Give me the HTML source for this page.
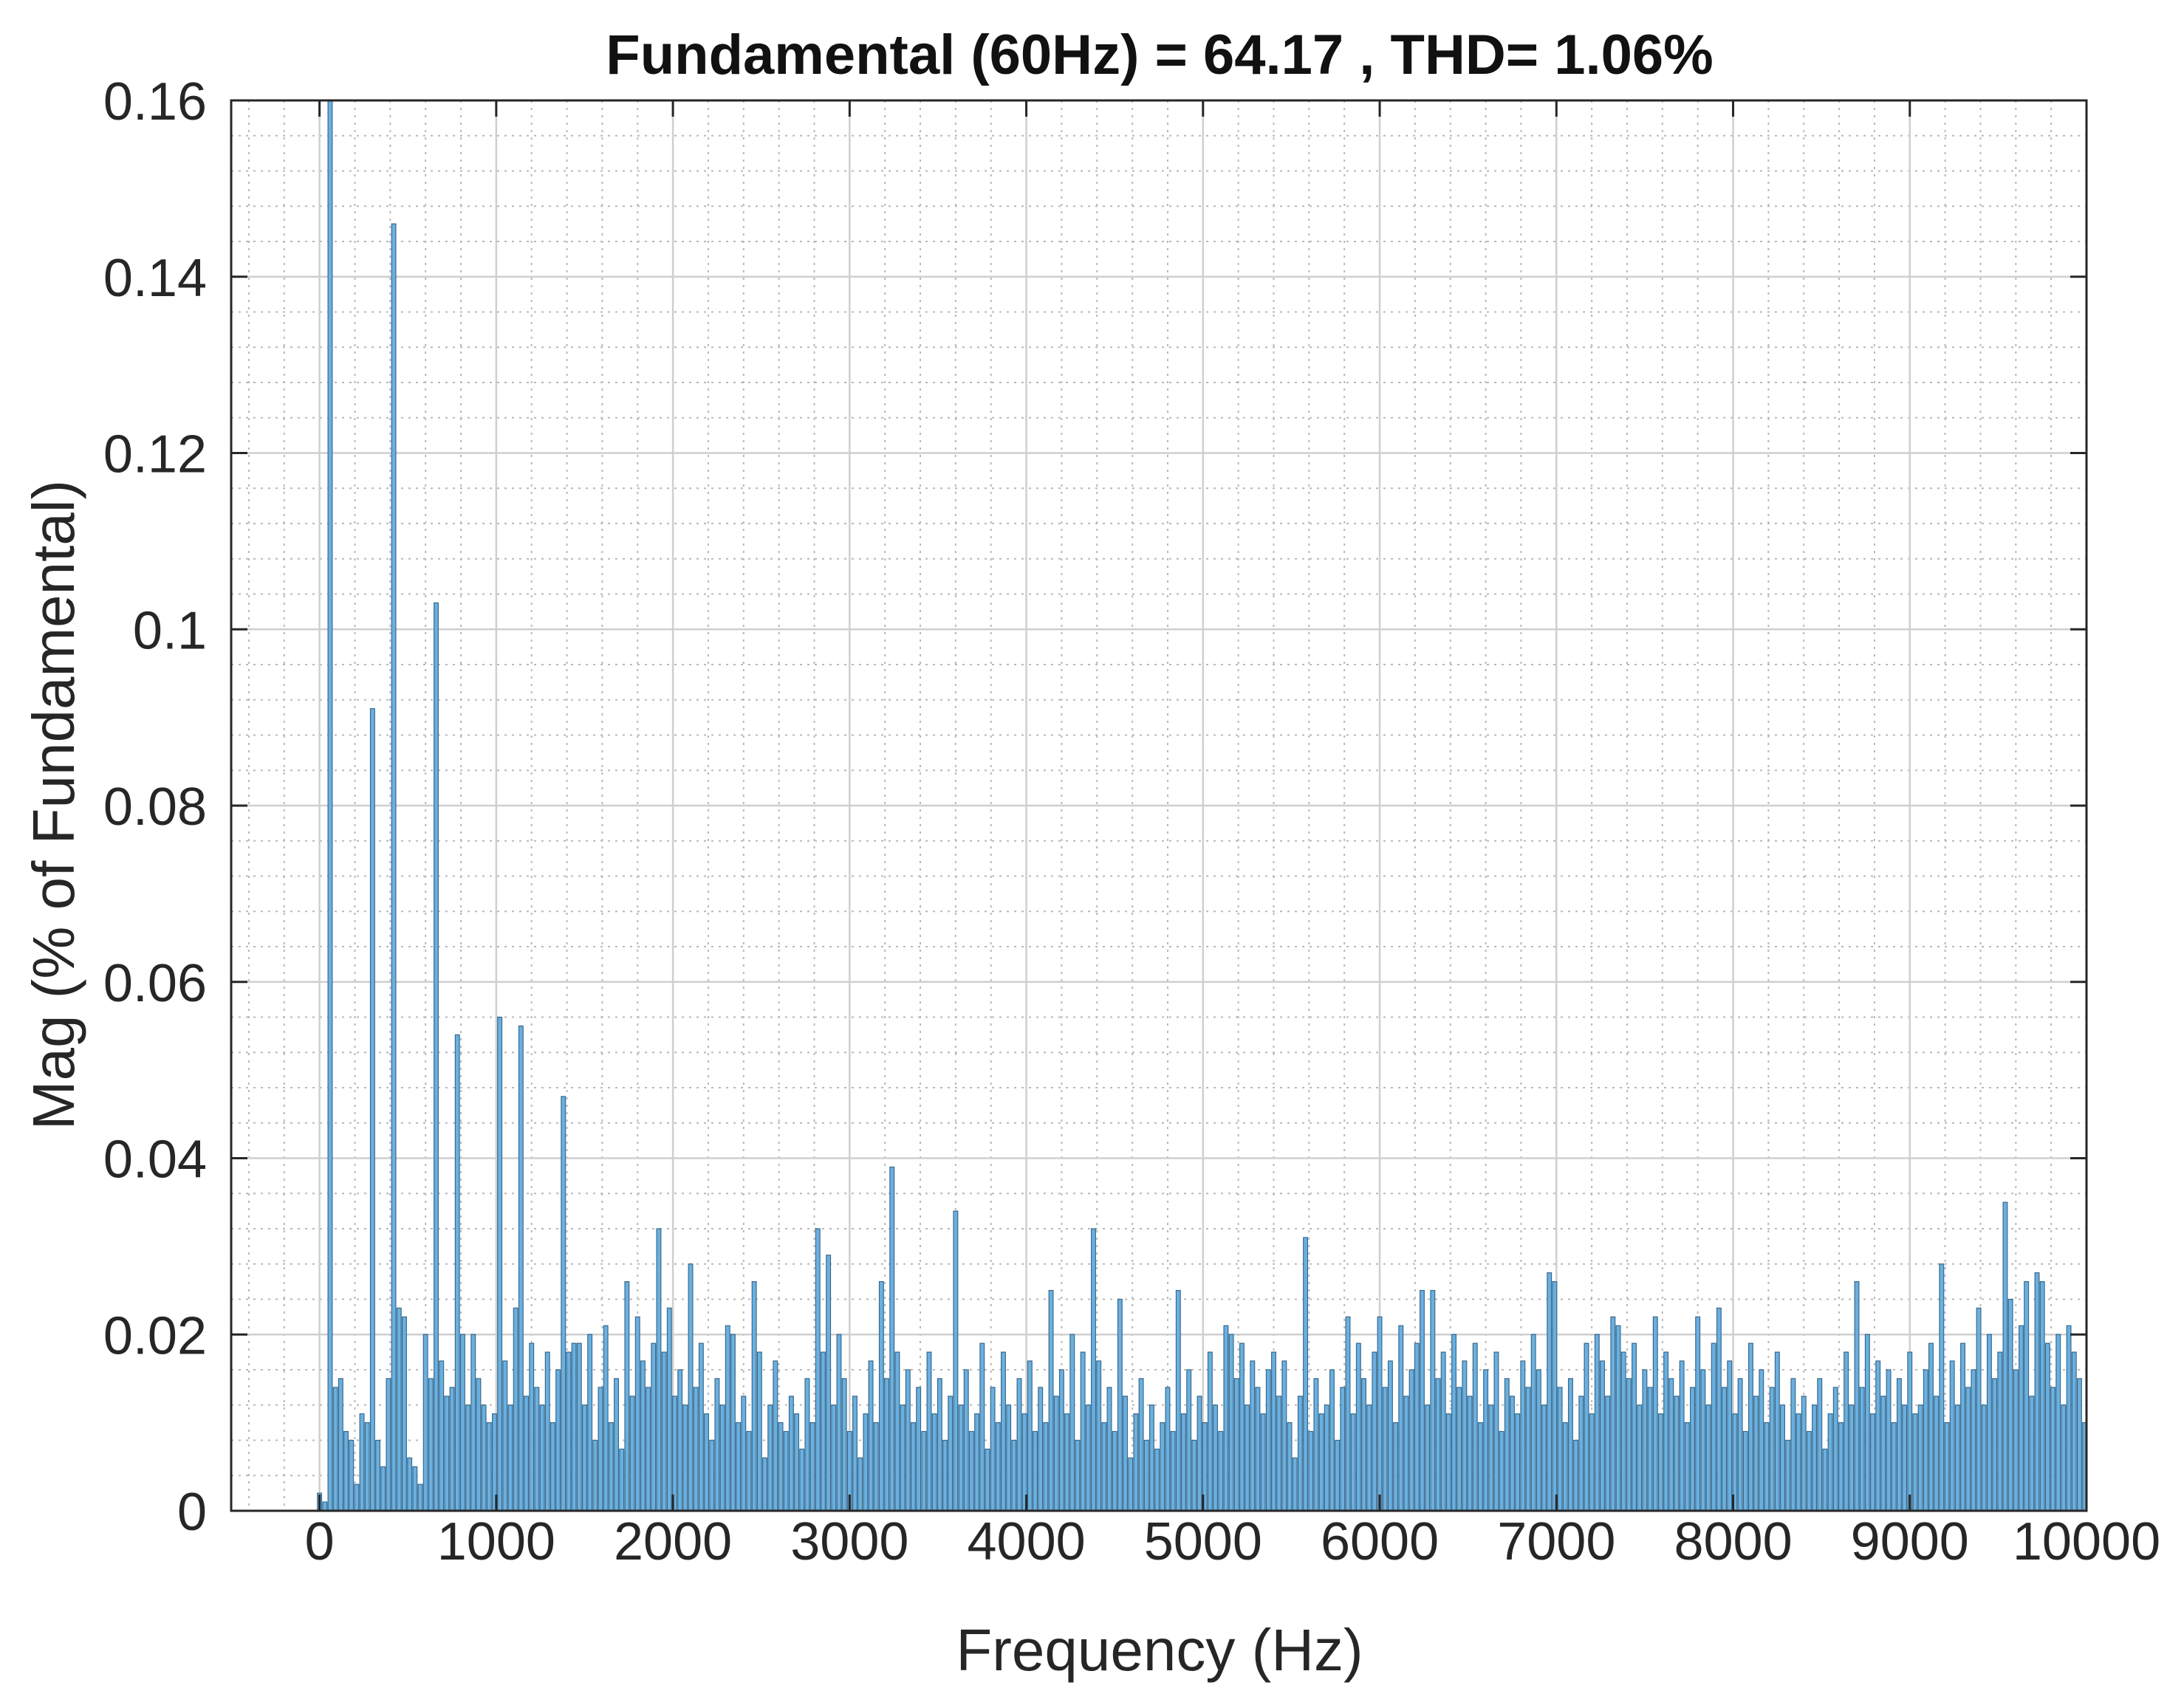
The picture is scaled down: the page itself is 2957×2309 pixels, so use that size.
<!DOCTYPE html>
<html><head><meta charset="utf-8"><style>
html,body{margin:0;padding:0;background:#fff;}
svg{display:block;font-family:"Liberation Sans",Arial,sans-serif;}
</style></head><body>
<svg id="chart" width="2957" height="2309" viewBox="0 0 2957 2309" xmlns="http://www.w3.org/2000/svg">
<defs><clipPath id="plotclip"><rect x="313" y="136" width="2512" height="1910"/></clipPath></defs>
<rect x="313" y="136" width="2512" height="1910" fill="#fff"/>
<g id="grid"></g>
<g id="bars" clip-path="url(#plotclip)"></g>
<g id="axes"></g>
<text x="1570" y="100" text-anchor="middle" font-size="76" font-weight="bold" fill="#111">Fundamental (60Hz) = 64.17 , THD= 1.06%</text>
<text x="1570" y="2262" text-anchor="middle" font-size="80" fill="#262626">Frequency (Hz)</text>
<text transform="translate(100,1090) rotate(-90)" text-anchor="middle" font-size="80" fill="#262626">Mag (% of Fundamental)</text>
</svg>
<script>
const binWidth = 30;
const magValues = [
0.002,0.001,100,0.014,0.015,0.009,0.008,0.003,0.011,0.01,
0.091,0.008,0.005,0.015,0.146,0.023,0.022,0.006,0.005,0.003,
0.02,0.015,0.103,0.017,0.013,0.014,0.054,0.02,0.012,0.02,
0.015,0.012,0.01,0.011,0.056,0.017,0.012,0.023,0.055,0.013,
0.019,0.014,0.012,0.018,0.01,0.016,0.047,0.018,0.019,0.019,
0.012,0.02,0.008,0.014,0.021,0.01,0.015,0.007,0.026,0.013,
0.022,0.017,0.014,0.019,0.032,0.018,0.023,0.013,0.016,0.012,
0.028,0.014,0.019,0.011,0.008,0.015,0.012,0.021,0.02,0.01,
0.013,0.009,0.026,0.018,0.006,0.012,0.017,0.01,0.009,0.013,
0.011,0.007,0.015,0.01,0.032,0.018,0.029,0.012,0.02,0.015,
0.009,0.013,0.006,0.011,0.017,0.01,0.026,0.015,0.039,0.018,
0.012,0.016,0.01,0.014,0.009,0.018,0.011,0.015,0.008,0.013,
0.034,0.012,0.016,0.009,0.011,0.019,0.007,0.014,0.01,0.018,
0.012,0.008,0.015,0.011,0.017,0.009,0.014,0.01,0.025,0.013,
0.016,0.011,0.02,0.008,0.018,0.012,0.032,0.017,0.01,0.014,
0.009,0.024,0.013,0.006,0.011,0.015,0.008,0.012,0.007,0.01,
0.014,0.009,0.025,0.011,0.016,0.008,0.013,0.01,0.018,0.012,
0.009,0.021,0.02,0.015,0.019,0.012,0.017,0.014,0.011,0.016,
0.018,0.013,0.017,0.01,0.006,0.013,0.031,0.009,0.015,0.011,
0.012,0.016,0.008,0.014,0.022,0.011,0.019,0.015,0.012,0.018,
0.022,0.014,0.017,0.01,0.021,0.013,0.016,0.019,0.025,0.012,
0.025,0.015,0.018,0.011,0.02,0.014,0.017,0.013,0.019,0.01,
0.016,0.012,0.018,0.009,0.015,0.013,0.011,0.017,0.014,0.02,
0.016,0.012,0.027,0.026,0.014,0.01,0.015,0.008,0.013,0.019,
0.011,0.02,0.017,0.013,0.022,0.021,0.018,0.015,0.019,0.012,
0.016,0.014,0.022,0.011,0.018,0.015,0.013,0.017,0.01,0.014,
0.022,0.016,0.012,0.019,0.023,0.014,0.017,0.011,0.015,0.009,
0.019,0.013,0.016,0.01,0.014,0.018,0.012,0.008,0.015,0.011,
0.013,0.009,0.012,0.015,0.007,0.011,0.014,0.01,0.018,0.012,
0.026,0.014,0.02,0.011,0.017,0.013,0.016,0.01,0.015,0.012,
0.018,0.011,0.012,0.016,0.019,0.013,0.028,0.01,0.017,0.012,
0.019,0.014,0.016,0.023,0.012,0.02,0.015,0.018,0.035,0.024,
0.016,0.021,0.026,0.013,0.027,0.026,0.019,0.014,0.02,0.012,
0.021,0.018,0.015,0.01
];
const xTicks = [0,1000,2000,3000,4000,5000,6000,7000,8000,9000,10000];
const xTickLabels = ["0","1000","2000","3000","4000","5000","6000","7000","8000","9000","10000"];
const yTicks = [0,0.02,0.04,0.06,0.08,0.1,0.12,0.14,0.16];
const yTickLabels = ["0","0.02","0.04","0.06","0.08","0.1","0.12","0.14","0.16"];
const xMin = -500, xMax = 10000, yMin = 0, yMax = 0.16;

const L=313,R=2825,T=136,B=2046;
const NS="http://www.w3.org/2000/svg";
function xs(v){return L+(v-xMin)/(xMax-xMin)*(R-L);}
function ys(v){return B-(v-yMin)/(yMax-yMin)*(B-T);}
function mk(tag,attrs,parent){const e=document.createElementNS(NS,tag);for(const k in attrs)e.setAttribute(k,attrs[k]);parent.appendChild(e);return e;}

const grid=document.getElementById('grid');
for(let v=-400;v<xMax;v+=200){
  if(v%1000===0) continue;
  const ln=mk('line',{x1:xs(v),x2:xs(v),y1:T,y2:B,stroke:'#b8b8b8','stroke-width':2,'stroke-dasharray':'3,7'},grid);
  
  
}
for(let k=1;k<40;k++){
  if(k%5===0) continue;
  const v=k*0.004;
  const ln=mk('line',{x1:L,x2:R,y1:ys(v),y2:ys(v),stroke:'#b8b8b8','stroke-width':2,'stroke-dasharray':'3,7'},grid);
  
  
}
xTicks.forEach(v=>{
  const ln=mk('line',{x1:xs(v),x2:xs(v),y1:T,y2:B,stroke:'#cfcfcf','stroke-width':2.5},grid);
  
  
});
yTicks.forEach(v=>{
  const ln=mk('line',{x1:L,x2:R,y1:ys(v),y2:ys(v),stroke:'#cfcfcf','stroke-width':2.5},grid);
  
  
});

const bars=document.getElementById('bars');
const pxPerHz=(R-L)/(xMax-xMin);
const bw=binWidth*pxPerHz*0.8;
magValues.forEach((m,i)=>{
  const f=i*binWidth;
  const y=ys(Math.min(m,yMax*1.05));
  const r=mk('rect',{x:xs(f)-bw/2,y:y,width:bw,height:B-y,fill:'#6ab0e0',stroke:'#3a6a8c','stroke-width':1.2},bars);
  
  
});

const axes=document.getElementById('axes');
const box=mk('rect',{x:L,y:T,width:R-L,height:B-T,fill:'none',stroke:'#262626','stroke-width':3},axes);


xTicks.forEach((v,i)=>{
  mk('line',{x1:xs(v),x2:xs(v),y1:B,y2:B-22,stroke:'#262626','stroke-width':3},axes);
  mk('line',{x1:xs(v),x2:xs(v),y1:T,y2:T+22,stroke:'#262626','stroke-width':3},axes);
  const t=mk('text',{x:xs(v),y:2112,'text-anchor':'middle','font-size':72,fill:'#262626'},axes);
  t.textContent=xTickLabels[i];
  
  
});
yTicks.forEach((v,i)=>{
  mk('line',{x1:L,x2:L+22,y1:ys(v),y2:ys(v),stroke:'#262626','stroke-width':3},axes);
  mk('line',{x1:R,x2:R-22,y1:ys(v),y2:ys(v),stroke:'#262626','stroke-width':3},axes);
  const t=mk('text',{x:280,y:ys(v)+26,'text-anchor':'end','font-size':72,fill:'#262626'},axes);
  t.textContent=yTickLabels[i];
  
  
});
</script>
</body></html>
